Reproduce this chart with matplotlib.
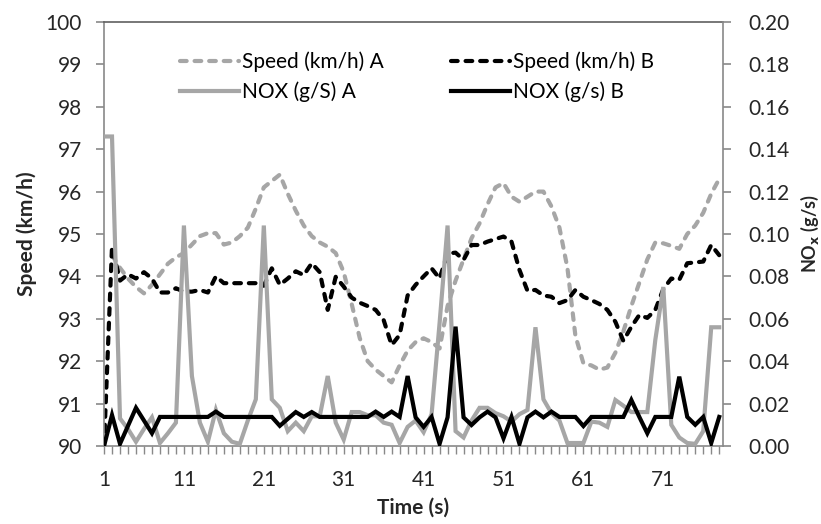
import numpy as np
from matplotlib import pyplot as plt
from matplotlib.lines import Line2D
from matplotlib.ticker import FixedLocator, MultipleLocator, FormatStrFormatter

plt.rcParams["font.family"] = ["Lato", "DejaVu Sans"]
plt.rcParams.update({'font.size': 15})

# time axis, one sample per second
time_s = np.arange(1, 79)

speed_a = [np.nan, 94.50, 94.20, 93.95, 93.75, 93.60, 93.80, 94.05, 94.30, 94.45,
           94.55, 94.75, 94.95, 95.02, 95.02, 94.75, 94.80, 94.95, 95.15, 95.60,
           96.10, 96.25, 96.40, 95.95, 95.55, 95.20, 94.95, 94.80, 94.70, 94.55,
           94.10, 93.35, 92.55, 92.00, 91.80, 91.65, 91.50, 91.90, 92.25, 92.45,
           92.54, 92.45, 92.30, 93.30, 93.90, 94.40, 94.90, 95.25, 95.70, 96.10,
           96.20, 95.88, 95.76, 95.88, 96.00, 96.00, 95.65, 95.15, 94.20, 92.60,
           91.95, 91.90, 91.80, 91.85, 92.20, 92.70, 93.30, 93.85, 94.40, 94.80,
           94.78, 94.72, 94.65, 95.00, 95.20, 95.50, 95.95, 96.30]

speed_b = [90.00, 94.70, 93.90, 94.05, 93.95, 94.10, 93.95, 93.62, 93.62, 93.72,
           93.64, 93.64, 93.68, 93.62, 94.00, 93.84, 93.84, 93.84, 93.84, 93.84,
           93.78, 94.19, 93.80, 93.95, 94.12, 94.03, 94.31, 94.10, 93.21, 93.99,
           93.76, 93.50, 93.38, 93.30, 93.21, 92.97, 92.38, 92.62, 93.55, 93.80,
           94.00, 94.19, 93.95, 94.54, 94.56, 94.39, 94.74, 94.74, 94.82, 94.88,
           94.94, 94.82, 94.15, 93.66, 93.68, 93.55, 93.52, 93.37, 93.44, 93.68,
           93.52, 93.44, 93.35, 93.21, 92.93, 92.48, 92.81, 93.09, 93.02, 93.21,
           93.70, 93.95, 93.92, 94.31, 94.33, 94.35, 94.74, 94.50]

nox_a = [0.146, 0.146, 0.013, 0.008, 0.002, 0.008, 0.0135, 0.0014, 0.006, 0.011,
         0.104, 0.033, 0.011, 0.002, 0.017, 0.006, 0.002, 0.001, 0.012, 0.022,
         0.104, 0.022, 0.018, 0.007, 0.011, 0.007, 0.014, 0.014, 0.033, 0.011,
         0.003, 0.016, 0.016, 0.0145, 0.0145, 0.011, 0.010, 0.0014, 0.009, 0.012,
         0.0065, 0.015, 0.058, 0.104, 0.007, 0.004, 0.012, 0.018, 0.018, 0.0155,
         0.014, 0.0115, 0.015, 0.017, 0.056, 0.022, 0.0155, 0.012, 0.0014, 0.0014,
         0.0014, 0.0115, 0.011, 0.009, 0.0217, 0.019, 0.016, 0.016, 0.016, 0.050,
         0.075, 0.010, 0.004, 0.0014, 0.001, 0.007, 0.056, 0.056]

nox_b = [0.0, 0.0146, 0.001, 0.0095, 0.018, 0.012, 0.006, 0.0137, 0.0137, 0.0137,
         0.0137, 0.0137, 0.0137, 0.0137, 0.0162, 0.0137, 0.0137, 0.0137, 0.0137, 0.0137,
         0.0137, 0.0137, 0.0095, 0.0128, 0.016, 0.0137, 0.016, 0.0137, 0.0137, 0.0137,
         0.0137, 0.0137, 0.0137, 0.0137, 0.0162, 0.0137, 0.0162, 0.0137, 0.033, 0.0135,
         0.009, 0.0137, 0.001, 0.0135, 0.0563, 0.0135, 0.0099, 0.0135, 0.0162, 0.0135,
         0.0036, 0.0137, 0.001, 0.0135, 0.0162, 0.0135, 0.0162, 0.0137, 0.0137, 0.0137,
         0.0094, 0.0137, 0.0137, 0.0137, 0.0137, 0.0137, 0.0217, 0.0137, 0.006, 0.0137,
         0.0137, 0.0137, 0.0327, 0.0137, 0.010, 0.0137, 0.0014, 0.0137]

GREY = '#a6a6a6'
AXIS_GREY = '#898989'
TEXT = '#262626'
LW = 3.0
DASH = (1.6, 1.9)


def main():
    fig = plt.figure(figsize=(8.21, 5.24), dpi=100)
    ax = fig.add_axes([0.1267, 0.1489, 0.7539, 0.8091])
    ax2 = ax.twinx()

    # speeds on the left axis
    ax.plot(time_s, speed_a, color=GREY, lw=LW, dashes=DASH, dash_capstyle='round')
    ax.plot(time_s, speed_b, color='k', lw=LW, dashes=DASH, dash_capstyle='round')
    # NOx on the right axis
    ax2.plot(time_s, nox_a, color=GREY, lw=LW, solid_joinstyle='miter')
    ax2.plot(time_s, nox_b, color='k', lw=LW, solid_joinstyle='miter')

    ax.set_xlim(1, 78.47)
    ax.set_ylim(90, 100)
    ax2.set_ylim(0, 0.20)

    ax.xaxis.set_major_locator(FixedLocator(np.arange(1, 72, 10)))
    ax.xaxis.set_minor_locator(MultipleLocator(1))
    ax.yaxis.set_major_locator(MultipleLocator(1))
    ax2.yaxis.set_major_locator(MultipleLocator(0.02))
    ax2.yaxis.set_major_formatter(FormatStrFormatter('%.2f'))

    for a in (ax, ax2):
        for side in a.spines:
            a.spines[side].set_visible(False)
        a.tick_params(colors=AXIS_GREY, labelcolor=TEXT, width=1.2, length=6,
                      labelsize=15)
    ax.spines['left'].set_visible(True)
    ax.spines['bottom'].set_visible(True)
    ax.spines['top'].set_visible(True)
    ax2.spines['right'].set_visible(True)
    ax.spines['left'].set_color(AXIS_GREY)
    ax.spines['bottom'].set_color(AXIS_GREY)
    ax.spines['top'].set_color('#606060')
    ax2.spines['right'].set_color(AXIS_GREY)
    for s in ('left', 'bottom', 'top'):
        ax.spines[s].set_linewidth(1.2)
    ax2.spines['right'].set_linewidth(1.2)
    ax.tick_params(axis='x', which='both', length=6, width=1.0, color=AXIS_GREY, pad=11)
    ax.tick_params(axis='y', pad=10)
    ax2.tick_params(axis='y', pad=12)

    ax.set_xlabel("Time (s)", fontweight='bold', color=TEXT, labelpad=6)
    ax.set_ylabel("Speed (km/h)", fontweight='bold', color=TEXT, labelpad=6)
    ax2.set_ylabel(r"NO$_\mathbf{x}$ (g/s)", fontweight='bold', color=TEXT,
                   fontsize=13, labelpad=7)

    handles = [
        Line2D([], [], color=GREY, lw=LW, dashes=DASH, dash_capstyle='round'),
        Line2D([], [], color=GREY, lw=LW),
        Line2D([], [], color='k', lw=LW, dashes=DASH, dash_capstyle='round'),
        Line2D([], [], color='k', lw=LW),
    ]
    labels = ["Speed (km/h) A", "NOX (g/S) A", "Speed (km/h) B", "NOX (g/s) B"]
    ax2.legend(handles, labels, ncol=2, frameon=False, loc='upper left',
               bbox_to_anchor=(0.11, 0.95), borderaxespad=0, handlelength=2.8,
               handletextpad=0.15, columnspacing=3.25, labelspacing=0.45, fontsize=15)

    fig.savefig("out.png", dpi=100)


if __name__ == "__main__":
    main()
